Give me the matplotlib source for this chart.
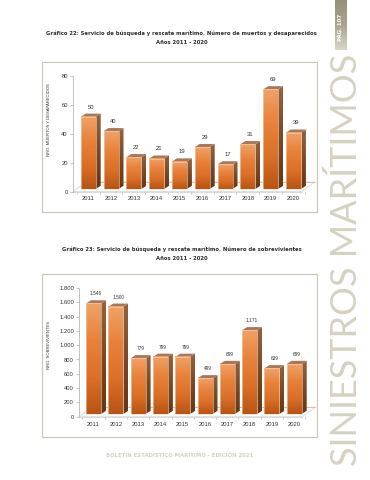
import matplotlib
matplotlib.use('Agg')
import matplotlib.pyplot as plt
from matplotlib.patches import Polygon, Rectangle
import numpy as np

W, H = 370, 480

# Data
years = ['2011', '2012', '2013', '2014', '2015', '2016', '2017', '2018', '2019', '2020']
muertos = [50, 40, 22, 21, 19, 29, 17, 31, 69, 39]
sobrevivientes = [1546, 1500, 779, 799, 799, 499, 699, 1171, 639, 699]
muertos_ticks = [0, 20, 40, 60, 80]
sobrev_ticks = [0, 200, 400, 600, 800, 1000, 1200, 1400, 1600, 1800]
sobrev_tick_labels = ['0', '200', '400', '600', '800', '1.000', '1.200', '1.400', '1.600', '1.800']
sobrev_value_labels = ['1.546', '1.500', '779', '799', '799', '499', '699', '1.171', '639', '699']

TITLE1 = 'Gráfico 22: Servicio de búsqueda y rescate marítimo. Número de muertos y desaparecidos'
TITLE2 = 'Gráfico 23: Servicio de búsqueda y rescate marítimo. Número de sobrevivientes'
SUB = 'Años 2011 - 2020'

plt.rcParams['font.family'] = ['Liberation Sans', 'DejaVu Sans']
fig = plt.figure(figsize=(W / 100, H / 100), dpi=100, facecolor='white')

# overlay in pixel coordinates for page furniture
page = fig.add_axes([0, 0, 1, 1], zorder=0)
page.set_xlim(0, W)
page.set_ylim(H, 0)
page.axis('off')


def panel(x0, y0, x1, y1):
    page.add_patch(Rectangle((x0 + 1, y0 + 1), x1 - x0, y1 - y0, fc='#e4e2da', ec='none'))
    page.add_patch(Rectangle((x0, y0), x1 - x0, y1 - y0, fc='white', ec='#c9c6b4', lw=0.8))


panel(42, 62, 317, 212)
panel(42, 274, 317, 437)

title_font = dict(ha='center', va='center', fontsize=3.82, fontweight='bold', color='#2e2e2e',
                  family='DejaVu Sans')
page.text(181.5, 33, TITLE1, **title_font)
page.text(181.5, 42.5, SUB, **title_font)
page.text(181.5, 249, TITLE2, **title_font)
page.text(181.5, 258.5, SUB, **title_font)
page.text(180, 455, 'BOLETÍN ESTADÍSTICO MARÍTIMO - EDICIÓN 2021', ha='center', va='center',
          fontsize=3.9, fontweight='bold', color='#d6d2c2', family='DejaVu Sans')

# page tab with gradient
tab = np.linspace(0, 1, 64).reshape(-1, 1)
tab_cmap = matplotlib.colors.LinearSegmentedColormap.from_list('tab', ['#94907a', '#a8a590', '#d8d6c8'])
page.imshow(tab, cmap=tab_cmap, extent=(335, 347, 50, 0), aspect='auto', zorder=1)
page.set_xlim(0, W)
page.set_ylim(H, 0)
page.text(341, 27, 'PÁG. 107', rotation=90, ha='center', va='center', fontsize=3.9,
          fontweight='bold', color='white', zorder=2, family='DejaVu Sans')

page.text(357, 260, 'SINIESTROS MARÍTIMOS', rotation=90, ha='center', va='baseline',
          rotation_mode='anchor', fontsize=26, color='#d6d2c2', family='Lato', zorder=1)

face_cmap = matplotlib.colors.LinearSegmentedColormap.from_list(
    'face', ['#f0a268', '#e8823a', '#dc7028', '#b85414'])
side_cmap = matplotlib.colors.LinearSegmentedColormap.from_list(
    'side', ['#94623e', '#7a4a26', '#663614'])


def bar_chart(box, ymax, values, value_labels, ticks, tick_labels, first_x, step, width,
              lift, ylabel, ylabel_x, ylabel_y, label_fs):
    # box is (left, top, right, bottom) in pixels of the value axis area
    left, top, right, bottom = box
    ax = fig.add_axes([left / W, 1 - bottom / H, (right - left) / W, (bottom - top) / H], zorder=3)
    ax.patch.set_alpha(0)
    # x data is the category index; convert pixel spacing to it
    x_lo = (left - first_x) / step
    x_hi = x_lo + (right - left) / step
    py = (bottom - top) / ymax   # pixels per value
    dx, dy = 5 / step, 3.2 / py   # depth of the 3d effect
    bw = width / step
    base = lift / py

    # floor
    fx, fy = 13 / step, 9.5 / py
    front_r = len(values) - 1 + bw / 2 + 0.03
    ax.add_patch(Polygon([(x_lo, 0), (x_lo + fx, fy), (front_r + fx, fy), (front_r, 0)], closed=True,
                         fc='white', ec='#d8d8d8', lw=0.6, clip_on=False, zorder=1))
    ax.plot([x_lo + fx, front_r + fx], [fy, fy], color='#e9b48c', lw=0.6, zorder=1, clip_on=False)

    grad = np.linspace(0, 1, 128).reshape(-1, 1)
    for i, v in enumerate(values):
        l, r = i - bw / 2, i + bw / 2
        t = v + base
        side = ax.imshow(grad, cmap=side_cmap, extent=(r, r + dx, base, t + dy), aspect='auto', zorder=2)
        side.set_clip_path(Polygon([(r, base), (r + dx, base + dy), (r + dx, t + dy), (r, t)],
                                   closed=True, transform=ax.transData))
        ax.add_patch(Polygon([(l, t), (r, t), (r + dx, t + dy), (l + dx, t + dy)], closed=True,
                             fc='#a8785a', ec='none', zorder=3))
        ax.imshow(grad, cmap=face_cmap, extent=(l, r, base, t), aspect='auto', zorder=3)
        ax.add_patch(Rectangle((l, base), bw, v, fc='none', ec='#f8d8c0', lw=0.4, zorder=4))
        ax.text(i + dx / 2, t + dy + 4 / py, value_labels[i], ha='center', va='bottom',
                fontsize=label_fs, color='#333333', zorder=5)
    ax.set_xlim(x_lo, x_hi)
    ax.set_ylim(0, ymax)

    ax.set_yticks(ticks)
    ax.set_yticklabels(tick_labels, fontsize=4.2, color='#333333')
    ax.set_xticks(range(len(years)))
    ax.set_xticklabels(years, fontsize=4.2, color='#333333')
    ax.tick_params(axis='y', length=2.2, width=0.4, color='#999999', pad=1.5)
    ax.tick_params(axis='x', length=0, pad=3.5)
    for s in ['top', 'right', 'bottom']:
        ax.spines[s].set_visible(False)
    ax.spines['left'].set_color('#aaaaaa')
    ax.spines['left'].set_linewidth(0.5)
    # separators under the floor front edge
    for i in range(len(years) + 1):
        ax.plot([i - 0.5, i - 0.5], [0, -2 / py], color='#aaaaaa', lw=0.4, clip_on=False, zorder=1)
    ax.plot([x_lo, front_r], [0, 0], color='#cccccc', lw=0.5, clip_on=False, zorder=1)
    ax.text((ylabel_x - left) / step + x_lo, (bottom - ylabel_y) / py, ylabel, rotation=90,
            ha='center', va='center', fontsize=3.0, color='#333333')
    return ax


bar_chart((73, 76, 316, 191.5), 80, muertos, [str(v) for v in muertos], muertos_ticks,
          [str(t) for t in muertos_ticks], 88.2, 22.8, 15, 2.5,
          'NRO. MUERTOS Y DESAPARECIDOS', 49, 120, 4.2)
bar_chart((79, 288, 316, 416.7), 1800, sobrevivientes, sobrev_value_labels, sobrev_ticks,
          sobrev_tick_labels, 93.5, 22.3, 15, 2.7,
          'NRO. SOBREVIVIENTES', 49, 345, 3.4)

fig.savefig('out.png', dpi=100)
